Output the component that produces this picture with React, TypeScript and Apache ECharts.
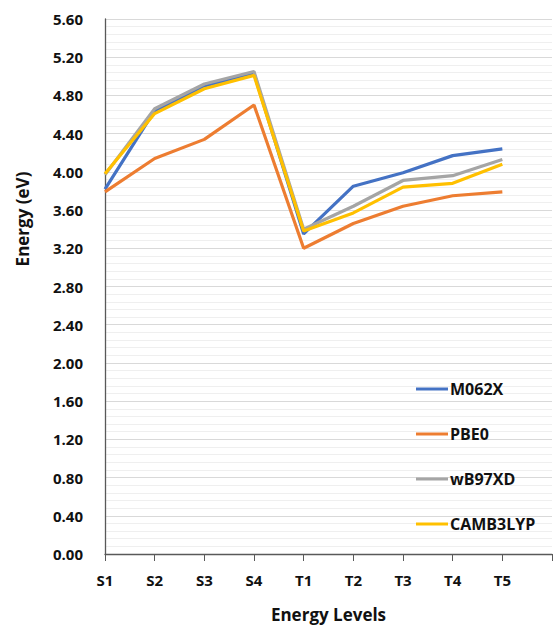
import React, { useEffect, useRef } from "react";
import * as echarts from "echarts";

const categories = ["S1", "S2", "S3", "S4", "T1", "T2", "T3", "T4", "T5", ""];
const m062x = [3.82, 4.64, 4.9, 5.03, 3.35, 3.85, 3.99, 4.17, 4.24];
const pbe0 = [3.79, 4.14, 4.34, 4.7, 3.2, 3.46, 3.64, 3.75, 3.79];
const wb97xd = [3.97, 4.66, 4.92, 5.05, 3.4, 3.64, 3.91, 3.96, 4.13];
const camb3lyp = [3.98, 4.61, 4.87, 5.01, 3.38, 3.57, 3.84, 3.88, 4.08];
const seriesNames = ["M062X", "PBE0", "wB97XD", "CAMB3LYP"];
const colors = ["#4472C4", "#ED7D31", "#A5A5A5", "#FFC000"];

const FONT = "'Open Sans', 'Noto Sans', sans-serif";

export default function App() {
  const ref = useRef<HTMLDivElement>(null);
  useEffect(() => {
    if (!ref.current) return;
    const chart = echarts.init(ref.current, null, { renderer: "svg" });
    const all = [m062x, pbe0, wb97xd, camb3lyp];
    chart.setOption({
      animation: false,
      backgroundColor: "#ffffff",
      grid: { left: 105, top: 19, right: 0, bottom: 71, containLabel: false },
      legend: {
        orient: "vertical",
        left: 411,
        top: 374,
        icon: "rect",
        itemWidth: 32,
        itemHeight: 3,
        itemGap: 25,
        data: seriesNames,
        textStyle: {
          fontFamily: FONT,
          fontWeight: "bold",
          fontSize: 16,
          color: "#111111",
          lineHeight: 20,
          padding: [0, 0, 0, -3],
        },
      },
      xAxis: {
        type: "category",
        data: categories,
        boundaryGap: false,
        axisLine: { show: true, lineStyle: { color: "#595959", width: 1.3 } },
        axisTick: { show: true, length: 7, lineStyle: { color: "#595959" } },
        axisLabel: {
          margin: 18,
          fontFamily: FONT,
          fontWeight: "bold",
          fontSize: 15,
          color: "#111111",
        },
        splitLine: { show: false },
        name: "Energy Levels",
        nameLocation: "middle",
        nameGap: 52,
        nameTextStyle: {
          fontFamily: FONT,
          fontWeight: "bold",
          fontSize: 17,
          color: "#111111",
        },
      },
      yAxis: {
        type: "value",
        min: 0,
        max: 5.6,
        interval: 0.4,
        axisLine: { show: true, lineStyle: { color: "#595959", width: 1.3 } },
        axisTick: { show: false },
        axisLabel: {
          margin: 22,
          fontFamily: FONT,
          fontWeight: "bold",
          fontSize: 15,
          color: "#111111",
          formatter: (v: number) => v.toFixed(2),
        },
        splitLine: { show: true, lineStyle: { color: "#d9d9d9", width: 1 } },
        minorTick: { show: false, splitNumber: 5 },
        minorSplitLine: { show: true, lineStyle: { color: "#efefef", width: 1 } },
      },
      graphic: [
        {
          type: "text",
          x: 22,
          y: 219,
          rotation: Math.PI / 2,
          style: {
            text: "Energy (eV)",
            fontFamily: FONT,
            fontWeight: "bold",
            fontSize: 17,
            fill: "#111111",
            align: "center",
            verticalAlign: "middle",
          },
        },
      ],
      series: seriesNames.map((name, i) => ({
        name,
        type: "line",
        data: all[i],
        symbol: "none",
        lineStyle: { color: colors[i], width: 3.2 },
        itemStyle: { color: colors[i] },
        z: 2 + i,
      })),
    });
    return () => chart.dispose();
  }, []);
  return <div ref={ref} style={{ width: 555, height: 628, position: "absolute", left: 0, top: 0 }} />;
}
